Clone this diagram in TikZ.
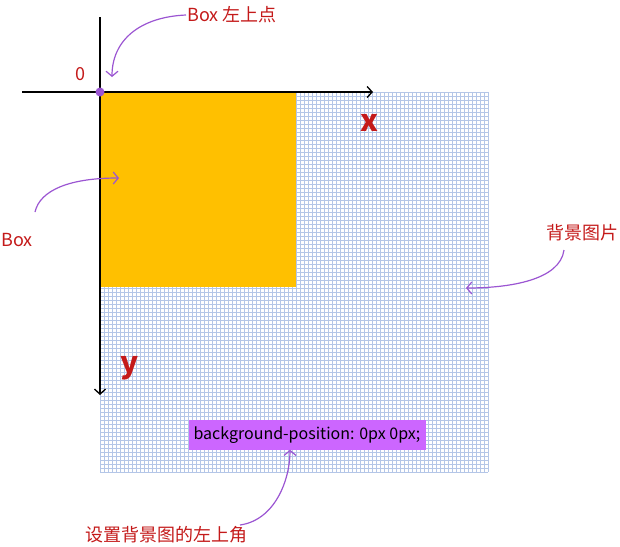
\documentclass[tikz,border=0pt]{standalone}
\usepackage{fontspec}
\setmainfont{Noto Sans CJK SC}
\usetikzlibrary{arrows.meta,positioning}
\definecolor{boxorange}{HTML}{FFC000}
\definecolor{gridblue}{HTML}{B4C6E7}
\definecolor{notered}{HTML}{C41A1A}
\definecolor{notepurple}{HTML}{9B55D2}
\definecolor{tagfill}{HTML}{CC66FF}

\begin{document}
\begin{tikzpicture}[x=1pt, y=-1pt,
    every node/.style={font=\fontsize{18}{20}\selectfont},
    axis/.style={black, line width=1.3pt, -{Straight Barb[length=5pt,width=11pt]}},
    pointer/.style={notepurple, line width=1.2pt, -{Straight Barb[length=5pt,width=12pt]}},
    note/.style={text=notered, inner sep=1pt}]
  \useasboundingbox (0,0) rectangle (620,546);

  % BACKGROUND IMAGE (GRID)
  \foreach \gx in {100,104,...,488} \draw[gridblue, line width=0.9pt] (\gx,92) -- (\gx,472);
  \foreach \gy in {92,96,...,472} \draw[gridblue, line width=0.9pt] (100,\gy) -- (488,\gy);

  % BOX
  \fill[boxorange] (100,92) rectangle (296,287);

  % AXES
  \coordinate (O) at (100,92);
  \coordinate (xend) at (373,92);
  \coordinate (yend) at (100,395);
  \draw[axis] (22,92) -- (xend);
  \draw[axis] (100,17) -- (yend);
  \fill[notepurple] (O) circle (4.5);
  \node[note] (zero) at (80,74) {0};
  \node[note, font=\fontsize{30}{32}\bfseries] (xlbl) at (369,123) {x};
  \node[note, font=\fontsize{30}{32}\bfseries] (ylbl) at (130,368) {y};

  % LABELS AND POINTERS
  \node[note, anchor=west] (corner) at (186,15) {Box 左上点};
  \node[note] (boxlbl) at (17,240) {Box};
  \node[note] (bglbl) at (582,233) {背景图片};
  \node[draw=tagfill, fill=tagfill, minimum width=236, minimum height=29, inner xsep=2pt,
        font=\fontsize{16}{18}\selectfont] (pos) at (307,435) {background-position: 0px 0px;};
  \node[note, anchor=east] (setlbl) at (249,535) {设置背景图的左上角};

  \coordinate (cornerhit) at (112,77);
  \coordinate (boxhit) at (119,178);
  \coordinate (bghit) at (466,288);
  \draw[pointer] (corner.west) .. controls (140,17) and (112,40) .. (cornerhit);
  \draw[pointer] (35,212) .. controls (40,190) and (70,178) .. (boxhit);
  \draw[pointer] (564,250) .. controls (560,280) and (510,288) .. (bghit);
  \draw[pointer] (240,525) .. controls (275,520) and (290,480) .. (pos.south -| 290,0);
\end{tikzpicture}
\end{document}
